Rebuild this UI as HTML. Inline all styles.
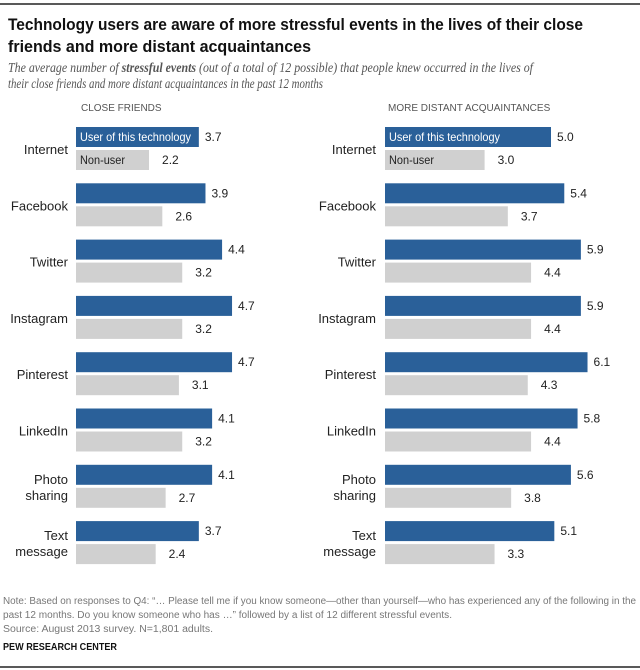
<!DOCTYPE html>
<html><head><meta charset="utf-8"><style>
body{margin:0;background:#fff}
svg{display:block;font-family:"Liberation Sans",sans-serif}
</style></head><body>
<svg width="640" height="670" id="c">
<line x1="0" y1="4" x2="640" y2="4" stroke="#222" stroke-width="1.5"/>
<text x="8" y="30" font-size="17" font-weight="bold" fill="#111" textLength="575" lengthAdjust="spacingAndGlyphs">Technology users are aware of more stressful events in the lives of their close</text>
<text x="8" y="52" font-size="17" font-weight="bold" fill="#111" textLength="303" lengthAdjust="spacingAndGlyphs">friends and more distant acquaintances</text>
<text x="8" y="72" font-size="14" font-style="italic" fill="#555" font-family="Liberation Serif,serif" textLength="525" lengthAdjust="spacingAndGlyphs">The average number of <tspan font-weight="bold">stressful events</tspan> (out of a total of 12 possible) that people knew occurred in the lives of</text>
<text x="8" y="88" font-size="14" font-style="italic" fill="#555" font-family="Liberation Serif,serif" textLength="315" lengthAdjust="spacingAndGlyphs">their close friends and more distant acquaintances in the past 12 months</text>
<text x="81" y="111" font-size="10" fill="#555">CLOSE FRIENDS</text>
<text x="388" y="111" font-size="10" fill="#555">MORE DISTANT ACQUAINTANCES</text>
<g id="bars"></g>
<text x="3" y="604" font-size="10" fill="#777" textLength="633" lengthAdjust="spacingAndGlyphs">Note: Based on responses to Q4: “… Please tell me if you know someone—other than yourself—who has experienced any of the following in the</text>
<text x="3" y="618" font-size="10" fill="#777" textLength="449" lengthAdjust="spacingAndGlyphs">past 12 months. Do you know someone who has …” followed by a list of 12 different stressful events.</text>
<text x="3" y="632" font-size="10" fill="#777" textLength="210" lengthAdjust="spacingAndGlyphs">Source: August 2013 survey. N=1,801 adults.</text>
<text x="3" y="650" font-size="10" font-weight="bold" fill="#111" textLength="114" lengthAdjust="spacingAndGlyphs">PEW RESEARCH CENTER</text>
<line x1="0" y1="667" x2="640" y2="667" stroke="#222" stroke-width="1.5"/>
</svg>
<script>
const categories=[["Internet"],["Facebook"],["Twitter"],["Instagram"],["Pinterest"],["LinkedIn"],["Photo","sharing"],["Text","message"]];
const closeUser=[3.7,3.9,4.4,4.7,4.7,4.1,4.1,3.7];
const closeNon=[2.2,2.6,3.2,3.2,3.1,3.2,2.7,2.4];
const distUser=[5.0,5.4,5.9,5.9,6.1,5.8,5.6,5.1];
const distNon=[3.0,3.7,4.4,4.4,4.3,4.4,3.8,3.3];
const NS="http://www.w3.org/2000/svg",g=document.getElementById('bars');
const K=33.2;
function x(v,x0){return x0+v*K;}
function y(i){return 127+i*56.3;}
function el(t,a,txt){const e=document.createElementNS(NS,t);for(const k in a)e.setAttribute(k,a[k]);if(txt!=null)e.textContent=txt;g.appendChild(e);return e;}
function panel(x0,labelX,u,n,key){
 categories.forEach((c,i)=>{
  const yy=y(i);
  const cy=yy+23;
  c.forEach((line,j)=>{
   const t=el('text',{x:labelX,y:cy+4+(j-(c.length-1)/2)*16,'font-size':13,fill:'#222','text-anchor':'end'},line);
   
   
  });
  const b1=el('rect',{x:x0,y:yy,width:x(u[i],x0)-x0,height:20,fill:'#2a6099'});
  
  
  const v1=el('text',{x:x(u[i],x0)+6,y:yy+14,'font-size':12,fill:'#222'},u[i].toFixed(1));
  
  
  const b2=el('rect',{x:x0,y:yy+23,width:x(n[i],x0)-x0,height:20,fill:'#d0d0d0'});
  
  
  const v2=el('text',{x:x(n[i],x0)+13,y:yy+37,'font-size':12,fill:'#222'},n[i].toFixed(1));
  
  
  if(i===0){
   const l1=el('text',{x:x0+4,y:yy+14,'font-size':12,fill:'#fff',textLength:111,lengthAdjust:'spacingAndGlyphs'},'User of this technology');
   
   
   const l2=el('text',{x:x0+4,y:yy+37,'font-size':12,fill:'#222',textLength:45,lengthAdjust:'spacingAndGlyphs'},'Non-user');
   
   
  }
 });
}
panel(76,68,closeUser,closeNon,'close');
panel(385,376,distUser,distNon,'distant');
</script>
</body></html>
